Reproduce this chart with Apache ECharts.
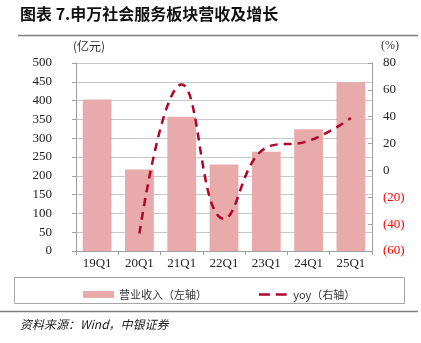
<!DOCTYPE html>
<html><head><meta charset="utf-8">
<script src="https://cdn.jsdelivr.net/npm/echarts@6/dist/echarts.min.js"></script>
<style>html,body{margin:0;padding:0;background:#fff}#c{width:421px;height:343px}</style>
</head><body><div id="c"></div>
<script>
var categories = ['19Q1','20Q1','21Q1','22Q1','23Q1','24Q1','25Q1'];
var revenue = [403, 217, 357, 230, 264, 324, 449];
var yoy = [null, -47, 64, -36, 17, 22, 39];
var leftTicks = {min: 0, max: 500, interval: 50};
var rightTicks = {min: -60, max: 80, interval: 20};

var serif = '"Liberation Serif","DejaVu Serif",serif';
var cjk = '"Noto Sans CJK SC",sans-serif';
var dashIcon = 'path://M0,0h0.1v0.1h-0.1z M0,2.3h11v2.6h-11z M17,2.3h11v2.6h-11z M27.9,7h0.1v0.1h-0.1z';
var chart = echarts.init(document.getElementById('c'));
chart.setOption({
  animation: false,
  backgroundColor: '#fff',
  grid: {left: 76, right: 49, top: 63, bottom: 92},
  legend: {
    left: 78, top: 284, itemGap: 52, itemWidth: 31, itemHeight: 7,
    textStyle: {fontFamily: cjk, fontSize: 11, color: '#333'},
    data: [{name: '营业收入（左轴）', icon: 'rect'}, {name: 'yoy（右轴）', icon: dashIcon}]
  },
  graphic: [
    {type: 'text', left: 20, top: 6, style: {text: '图表 7.申万社会服务板块营收及增长', font: 'bold 16px ' + cjk, fill: '#111'}},
    {type: 'line', shape: {x1: 18, y1: 35.5, x2: 418, y2: 35.5}, style: {stroke: '#7f7f7f', lineWidth: 1.5}},
    {type: 'text', left: 73, top: 40, style: {text: '(亿元)', font: '12px ' + cjk, fill: '#333'}},
    {type: 'text', left: 381, top: 40, style: {text: '(%)', font: '12px ' + serif, fill: '#333'}},
    {type: 'rect', shape: {x: 14.5, y: 277.5, width: 390, height: 26}, style: {fill: 'none', stroke: '#a6a6a6', lineWidth: 1}},
    {type: 'line', shape: {x1: 0, y1: 311.5, x2: 418, y2: 311.5}, style: {stroke: '#7f7f7f', lineWidth: 1.5}},
    {type: 'text', left: 20, top: 318, style: {text: '资料来源：Wind，中银证券', font: 'italic 12px ' + cjk, fill: '#222'}}
  ],
  xAxis: {
    type: 'category', data: categories, boundaryGap: true,
    axisLine: {lineStyle: {color: '#a0a0a0'}},
    axisTick: {show: true, length: 4, alignWithLabel: false, lineStyle: {color: '#a0a0a0'}},
    axisLabel: {margin: 6, fontFamily: serif, fontSize: 13, color: '#222'}
  },
  yAxis: [
    {type: 'value', min: leftTicks.min, max: leftTicks.max, interval: leftTicks.interval,
     axisLine: {show: true, lineStyle: {color: '#a0a0a0'}},
     axisTick: {show: true, length: 4, lineStyle: {color: '#a0a0a0'}},
     splitLine: {show: true, lineStyle: {color: '#c8c8c8'}},
     axisLabel: {margin: 24, fontFamily: serif, fontSize: 13, color: '#222'}},
    {type: 'value', min: rightTicks.min, max: rightTicks.max, interval: rightTicks.interval, position: 'right',
     axisLine: {show: true, lineStyle: {color: '#a0a0a0'}},
     axisTick: {show: true, inside: true, length: 4, lineStyle: {color: '#a0a0a0'}},
     splitLine: {show: false},
     axisLabel: {margin: 11, fontFamily: serif, fontSize: 13, color: '#222',
       formatter: function (v) { return v < 0 ? '{n|(' + (-v) + ')}' : String(v); },
       rich: {n: {color: '#ff0000', fontFamily: serif, fontSize: 13}}}}
  ],
  series: [
    {name: '营业收入（左轴）', type: 'bar', data: revenue, barWidth: '68%', yAxisIndex: 0,
     itemStyle: {color: '#e8aaaa'}},
    {name: 'yoy（右轴）', type: 'line', data: yoy, yAxisIndex: 1, smooth: 0.45, showSymbol: false, symbol: 'none',
     connectNulls: false,
     lineStyle: {color: '#b0042b', width: 2.5, type: [8, 6]}, itemStyle: {color: '#b0042b'}}
  ]
});
</script></body></html>
